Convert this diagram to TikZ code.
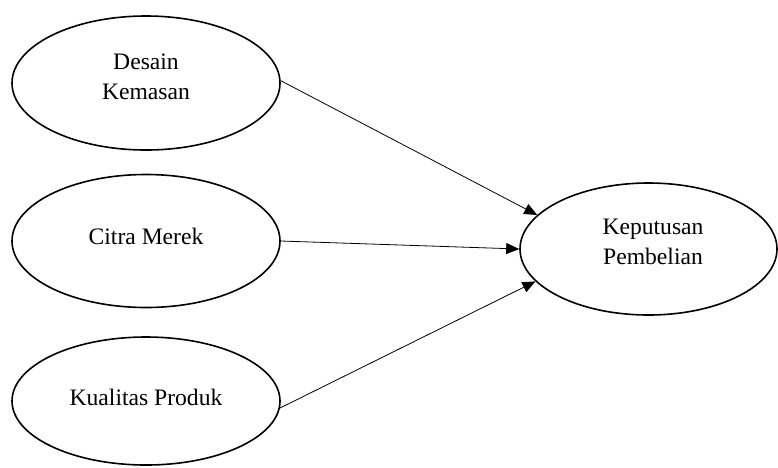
\documentclass[tikz,border=0pt]{standalone}
\usepackage{fontspec}
\setmainfont{Liberation Serif}
\usetikzlibrary{shapes.geometric,arrows.meta}
\begin{document}
\begin{tikzpicture}[x=1pt,y=-1pt,
  var/.style={draw,ellipse,line width=1.6pt,inner sep=0pt},
  lbl/.style={align=center,font=\fontsize{23.6}{30}\selectfont,inner sep=0pt},
  conn/.style={line width=0.8pt,-{Triangle[length=13pt,width=11pt]}}]
\useasboundingbox (0,0) rectangle (778,467);
\node[var,minimum width=268pt,minimum height=134pt] (d) at (146,83) {};
\node[var,minimum width=268pt,minimum height=133pt] (c) at (146,241) {};
\node[var,minimum width=268pt,minimum height=128pt] (k) at (146,401) {};
\node[var,minimum width=257pt,minimum height=132pt] (kp) at (648.5,249) {};
\node[lbl] (dt) at (146,77) {Desain\\Kemasan};
\node[lbl] (ct) at (146,236) {Citra Merek};
\node[lbl] (kt) at (146,397) {Kualitas Produk};
\node[lbl] (kpt) at (653,242) {Keputusan\\Pembelian};
\draw[conn] (d.1) -- (kp.163);
\draw[conn] (c.east) -- (kp.180);
\draw[conn] (k.-3) -- (kp.196);
\end{tikzpicture}
\end{document}
